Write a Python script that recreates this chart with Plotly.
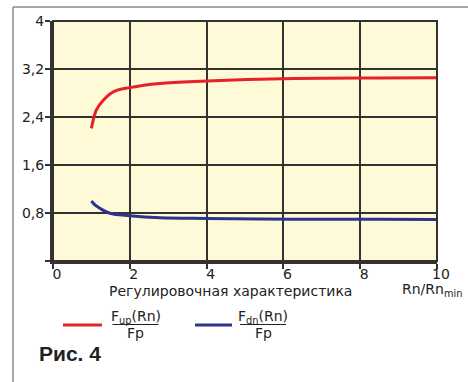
import plotly.graph_objects as go

# Regulation characteristic: relative load Rn/Rn_min vs. normalized frequencies
rn = [1.0, 1.13, 1.31, 1.57, 2.0, 2.78, 4.0, 5.38, 7.0, 8.5, 10.0]
f_up = [2.21, 2.52, 2.68, 2.82, 2.89, 2.96, 3.00, 3.03, 3.045, 3.05, 3.055]
rn_dn = [1.0, 1.1, 1.22, 1.48, 2.0, 2.78, 4.0, 5.38, 7.0, 8.5, 10.0]
f_dn = [1.0, 0.93, 0.878, 0.795, 0.755, 0.722, 0.71, 0.70, 0.697, 0.695, 0.693]

x_ticks = [0, 2, 4, 6, 8, 10]
x_labels = ["0", "2", "4", "6", "8", "10"]
y_ticks = [0, 0.8, 1.6, 2.4, 3.2, 4.0]
y_labels = ["", "0,8", "1,6", "2,4", "3,2", "4"]

RED = "#e8202a"
BLUE = "#2b3590"
DARK = "#333230"
FONT = "DejaVu Sans"

fig = go.Figure()
fig.add_trace(go.Scatter(x=rn, y=f_up, mode="lines", line=dict(color=RED, width=3, shape="spline"),
                         showlegend=False, hoverinfo="skip"))
fig.add_trace(go.Scatter(x=rn_dn, y=f_dn, mode="lines", line=dict(color=BLUE, width=3, shape="spline"),
                         showlegend=False, hoverinfo="skip"))

axis_common = dict(showline=True, linewidth=3, linecolor=DARK, showgrid=True, gridcolor=DARK,
                   gridwidth=2, zeroline=False, ticks="outside", ticklen=5, tickwidth=2,
                   tickcolor=DARK, tickfont=dict(family=FONT, size=14, color="#222"))

fig.update_layout(
    width=468, height=382,
    margin=dict(l=53, r=31, t=21, b=121),
    paper_bgcolor="white", plot_bgcolor="#fef9d6",
    xaxis=dict(range=[0, 10], tickvals=x_ticks, ticktext=x_labels, ticklabelshift=4,
               ticklabelstandoff=-7, **axis_common),
    yaxis=dict(range=[0, 4], tickvals=y_ticks, ticktext=y_labels, ticklabelstandoff=-2,
               **axis_common),
    showlegend=False,
)

# plot border on the top and right sides
fig.add_shape(type="rect", xref="x domain", yref="y domain", x0=0, x1=1, y0=0, y1=1,
              line=dict(color=DARK, width=2), layer="above")

# outer frame: top and left rules
def px_x(p):
    return (p - 53) / 384

def px_y(p):
    return (261 - p) / 240

fig.add_shape(type="line", xref="paper", yref="paper", x0=px_x(13), x1=px_x(468),
              y0=px_y(7), y1=px_y(7), line=dict(color="#8a8a8a", width=1.5))
fig.add_shape(type="line", xref="paper", yref="paper", x0=px_x(13), x1=px_x(13),
              y0=px_y(7), y1=px_y(382), line=dict(color="#8a8a8a", width=1.5))

def label(x, y, text, size=13, family=FONT, xanchor="center"):
    fig.add_annotation(xref="paper", yref="paper", x=px_x(x), y=px_y(y), text=text,
                       showarrow=False, xanchor=xanchor, yanchor="middle",
                       font=dict(family=family, size=size, color="#222"))

# axis captions
label(230, 291, "Регулировочная характеристика", size=14)
label(432, 290, "Rn/Rn<sub>min</sub>", size=14)

# legend keys
legend = [(RED, 63, 102, 135.5, "F<sub>up</sub>(Rn)"), (BLUE, 195, 232, 263, "F<sub>dn</sub>(Rn)")]
for color, x0, x1, xc, num in legend:
    fig.add_shape(type="line", xref="paper", yref="paper", x0=px_x(x0), x1=px_x(x1),
                  y0=px_y(325), y1=px_y(325), line=dict(color=color, width=3))
    label(xc, 317, num, size=14)
    fig.add_shape(type="line", xref="paper", yref="paper", x0=px_x(xc - 23), x1=px_x(xc + 23),
                  y0=px_y(324.5), y1=px_y(324.5), line=dict(color="#222", width=1))
    label(xc, 333, "Fp", size=14)

label(37, 353, "<b>Рис. 4</b>", size=21, family="Liberation Sans", xanchor="left")

fig.write_html("out.html")
